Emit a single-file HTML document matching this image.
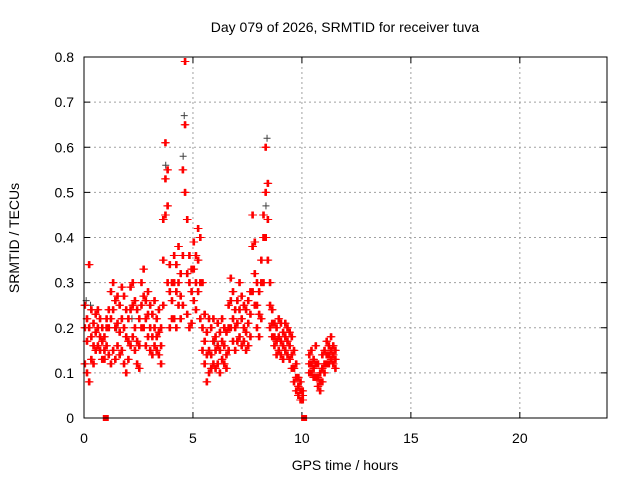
<!DOCTYPE html>
<html><head><meta charset="utf-8"><style>
body{margin:0;background:#fff}
svg{font-family:"Liberation Sans",sans-serif;font-size:14px}
</style></head><body>
<svg id="c" width="640" height="480">
<rect width="640" height="480" fill="#fff"/>
<text x="345" y="32" text-anchor="middle">Day 079 of 2026, SRMTID for receiver tuva</text>
<text x="345" y="470" text-anchor="middle">GPS time / hours</text>
<text transform="translate(19,238) rotate(-90)" text-anchor="middle">SRMTID / TECUs</text>
<g id="grid"></g><g id="marks"></g>
<rect x="84" y="57" width="523" height="361" fill="none" stroke="#000"/>
</svg>
<script>
const times=[0.0,0.1,0.2,0.3,0.4,0.5,0.6,0.7,0.8,0.9,1.0,1.1,1.2,1.3,1.4,1.5,1.6,1.7,1.8,1.9,2.0,2.1,2.2,2.3,2.4,2.5,2.6,2.7,2.8,2.9,3.0,3.1,3.2,3.3,3.4,3.5,3.6,3.7,3.8,3.9,4.0,4.1,4.2,4.3,4.4,4.5,4.6,4.7,4.8,4.9,5.0,5.1,5.2,5.3,5.4,5.5,5.6,5.7,5.8,5.9,6.0,6.1,6.2,6.3,6.4,6.5,6.6,6.7,6.8,6.9,7.0,7.1,7.2,7.3,7.4,7.5,7.6,7.7,7.8,7.9,8.0,8.1,8.2,8.3,8.4,8.5,8.6,8.7,8.8,8.9,9.0,9.1,9.2,9.3,9.4,9.5,9.6,9.7,9.8,9.9,10.0,10.3,10.4,10.5,10.6,10.7,10.8,10.9,11.0,11.1,11.2,11.3,11.4,11.5];
const hiVals=[.25,.22,.34,.24,.21,.23,.24,.22,.2,.18,.22,.24,.28,.3,.26,.27,.25,.29,.27,.24,.22,.29,.3,.26,.24,.22,.3,.33,.26,.28,.25,.23,.26,.22,.24,.2,.44,.61,.55,.34,.3,.36,.34,.38,.32,.55,.79,.44,.36,.33,.39,.36,.42,.4,.3,.23,.19,.22,.2,.22,.18,.21,.19,.22,.2,.19,.25,.31,.28,.24,.26,.3,.27,.25,.24,.26,.28,.45,.39,.3,.28,.35,.45,.6,.52,.3,.24,.21,.2,.22,.21,.19,.21,.2,.19,.18,.15,.12,.09,.08,.06,.14,.15,.13,.16,.12,.1,.14,.15,.17,.16,.18,.16,.15];
const midVals=[.2,.17,.2,.18,.16,.19,.2,.18,.17,.15,.2,.2,.22,.24,.2,.21,.19,.22,.2,.18,.17,.24,.25,.2,.17,.16,.25,.27,.22,.23,.2,.18,.2,.18,.19,.16,.35,.53,.47,.28,.26,.3,.28,.3,.27,.36,.65,.32,.3,.28,.33,.3,.35,.3,.2,.17,.14,.15,.14,.17,.15,.16,.15,.17,.16,.14,.2,.26,.22,.2,.21,.24,.22,.2,.19,.21,.23,.38,.32,.25,.23,.3,.4,.5,.44,.25,.21,.18,.17,.18,.17,.16,.18,.17,.16,.14,.11,.09,.07,.06,.05,.12,.12,.11,.12,.09,.08,.11,.12,.14,.14,.15,.14,.13];
const loVals=[.12,.1,.08,.13,.12,.15,.16,.15,.13,.13,.16,.14,.12,.15,.13,.16,.14,.15,.12,.1,.13,.16,.18,.15,.12,.11,.2,.2,.16,.18,.15,.14,.16,.15,.14,.12,.25,.45,.3,.2,.22,.22,.2,.25,.22,.25,.5,.23,.2,.21,.26,.24,.28,.22,.15,.12,.08,.1,.11,.12,.11,.12,.1,.13,.12,.11,.15,.2,.17,.15,.17,.18,.16,.17,.15,.16,.18,.28,.25,.2,.18,.22,.3,.4,.35,.2,.18,.16,.14,.15,.14,.13,.15,.14,.13,.11,.08,.06,.05,.04,.04,.1,.1,.09,.09,.07,.06,.08,.1,.12,.12,.13,.12,.11];
const blackT=[0.1,0.3,1.5,3.75,4.55,4.6,8.4,8.35,2.2,6.0];
const blackV=[.26,.25,.2,.56,.58,.67,.62,.47,.22,.17];
const squareT=[1.0,10.1];
const squareV=[0,0];
const xTicks=[0,5,10,15,20];
const yTicks=[0,0.1,0.2,0.3,0.4,0.5,0.6,0.7,0.8];
const X=h=>84+h*(523/24), Y=v=>418-v*(361/0.8);
const NS='http://www.w3.org/2000/svg';
const grid=document.getElementById('grid'), marks=document.getElementById('marks');
function el(t,a,p){const e=document.createElementNS(NS,t);for(const k in a)e.setAttribute(k,a[k]);p.appendChild(e);return e;}
xTicks.forEach(t=>{
  if(t>0){const l=el('line',{x1:X(t),x2:X(t),y1:57,y2:418,stroke:'#a0a0a0','stroke-dasharray':'2,3'},grid);
  
  }
  el('line',{x1:X(t),x2:X(t),y1:418,y2:412,stroke:'#000'},grid);
  el('line',{x1:X(t),x2:X(t),y1:57,y2:63,stroke:'#000'},grid);
  const tx=el('text',{x:X(t),y:443,'text-anchor':'middle'},grid);tx.textContent=t;
  
  
});
yTicks.forEach(t=>{
  if(t>0&&t<0.8){const l=el('line',{x1:84,x2:607,y1:Y(t),y2:Y(t),stroke:'#a0a0a0','stroke-dasharray':'2,3'},grid);
  
  }
  el('line',{x1:84,x2:90,y1:Y(t),y2:Y(t),stroke:'#000'},grid);
  el('line',{x1:601,x2:607,y1:Y(t),y2:Y(t),stroke:'#000'},grid);
  const tx=el('text',{x:74,y:Y(t)+5,'text-anchor':'end'},grid);tx.textContent=t===0?'0':t.toFixed(1);
  
  
});
function cross(h,v,c,name){
  const x=X(h),y=Y(v);
  const p=el('path',{d:`M${x-3.5},${y}h7M${x},${y-3.5}v7`,stroke:c,'stroke-width':1},marks);
  
  
}
blackT.forEach((t,i)=>cross(t,blackV[i],'#404040','black-point'));
const offs=[0,0.025,0.05,0.075];
[hiVals,midVals,loVals].forEach(arr=>times.forEach((t,i)=>{
  offs.forEach(o=>cross(t+o,arr[i],'#ff0000','red-point'));
}));
squareT.forEach((t,i)=>{
  const r=el('rect',{x:X(t)-3,y:Y(squareV[i])-3,width:6,height:6,fill:'#ff0000'},marks);
  
  
});
</script>
</body></html>
